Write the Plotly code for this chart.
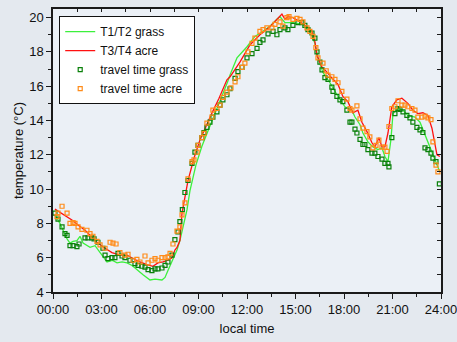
import plotly.graph_objects as go

# ---- data (hours since midnight, temperature in °C) ----
grass_line_h = [0.12,0.43,0.62,0.87,1.05,1.24,1.48,1.67,1.86,2.29,2.6,2.91,3.09,3.34,3.65,3.96,4.27,4.58,4.89,5.19,5.57,6.0,6.31,6.74,6.93,7.11,7.36,7.67,7.85,8.04,8.29,8.47,8.84,9.21,9.59,9.96,10.39,10.82,10.95,11.38,12.0,12.49,12.99,13.42,13.85,14.04,14.35,14.84,15.46,15.89,16.2,16.39,16.7,17.13,17.63,18.06,18.49,18.68,18.99,19.17,19.48,19.79,20.1,20.35,20.53,20.72,20.9,21.03,21.34,21.65,21.95,22.39,22.7,23.01,23.32,23.5,23.75,23.93]
grass_line_t = [8.5,8.0,7.6,7.1,6.85,6.95,7.0,7.25,6.85,6.6,6.7,6.3,6.0,5.75,5.85,5.7,5.75,5.7,5.55,5.3,5.0,4.7,4.75,4.7,4.85,5.25,5.75,6.45,7.0,7.8,8.8,9.9,11.4,12.5,13.4,14.2,15.2,16.3,16.66,17.65,18.3,18.9,19.2,19.5,19.9,20.05,19.7,19.7,19.6,19.2,18.5,17.65,16.8,16.2,15.4,14.8,14.6,14.2,13.75,13.27,12.75,12.46,12.3,12.4,11.9,11.6,12.86,14.4,14.7,14.6,14.3,14.2,13.9,13.15,12.4,12.0,11.4,11.0]

acre_line_h = [0.12,0.43,0.74,1.17,1.55,1.98,2.41,2.78,3.22,3.65,4.14,4.58,4.95,5.38,5.81,6.18,6.49,6.8,7.11,7.36,7.54,7.67,7.85,7.98,8.35,8.72,9.09,9.46,9.83,10.27,10.76,10.95,11.56,12.18,12.8,13.42,13.85,14.16,14.35,14.53,14.84,15.28,15.71,16.02,16.2,16.33,16.64,16.82,17.32,17.63,17.93,18.24,18.55,18.86,19.11,19.42,19.73,19.91,20.16,20.35,20.53,20.72,20.96,21.27,21.58,21.95,22.26,22.57,22.88,23.19,23.44,23.62,23.75,23.93]
acre_line_t = [8.83,8.65,8.5,8.2,7.9,7.6,7.2,6.85,6.55,6.3,6.15,6.15,5.95,5.75,5.6,5.5,5.7,5.75,5.85,6.0,6.45,6.6,7.0,8.6,10.5,11.8,12.87,13.7,14.43,15.3,16.37,16.55,17.4,18.4,19.0,19.47,19.88,20.2,19.9,20.05,20.0,19.76,19.47,19.2,18.6,17.8,17.1,16.95,16.4,16.1,15.4,15.1,14.45,14.6,13.9,13.35,12.7,12.46,13.0,12.46,12.46,13.27,14.8,15.2,15.3,15.0,14.6,14.4,14.45,14.3,13.55,12.75,12.0,11.9]

grass_tt_h = [0.12,0.31,0.56,0.74,0.87,1.05,1.24,1.48,1.61,1.98,2.16,2.41,2.54,2.78,3.09,3.22,3.4,3.65,3.83,4.02,4.27,4.45,4.76,5.07,5.26,5.5,5.69,5.88,6.12,6.31,6.49,6.74,6.93,7.11,7.36,7.54,7.73,7.85,8.0,8.16,8.35,8.6,8.78,8.97,9.21,9.34,9.52,9.71,9.89,10.14,10.33,10.51,10.76,10.95,11.26,11.44,11.69,12.0,12.31,12.62,12.8,12.99,13.3,13.61,13.85,14.04,14.35,14.53,14.84,15.15,15.4,15.58,15.77,16.02,16.2,16.33,16.51,16.64,16.82,17.01,17.25,17.32,17.56,17.75,17.93,18.18,18.37,18.49,18.68,18.8,18.99,19.17,19.29,19.48,19.73,19.91,20.1,20.35,20.53,20.72,20.78,20.96,21.15,21.34,21.46,21.65,21.89,22.08,22.26,22.51,22.7,22.88,23.01,23.19,23.38,23.5,23.69,23.9]
grass_tt_t = [8.6,8.25,7.8,7.4,7.3,6.7,6.7,6.65,6.8,7.15,7.15,7.15,7.1,6.9,6.55,6.15,5.95,6.0,6.0,6.25,6.1,6.0,5.85,5.65,5.55,5.5,5.45,5.3,5.25,5.35,5.35,5.4,5.55,5.75,6.15,7.05,7.5,8.1,8.8,9.8,10.5,11.5,12.15,12.55,13.0,13.3,13.6,13.9,14.2,14.5,14.9,15.2,15.5,15.85,16.45,16.85,17.1,17.65,17.9,18.2,18.55,18.7,19.05,19.2,19.0,19.3,19.4,19.3,19.55,19.7,19.7,19.55,19.3,19.1,18.8,18.0,17.4,16.95,16.5,16.4,15.95,15.7,15.4,15.2,15.1,14.6,13.9,13.9,13.5,13.27,12.9,12.6,12.6,12.3,12.1,12.1,11.9,11.75,11.5,11.5,11.3,13.0,14.4,14.7,14.65,14.5,14.3,14.15,13.9,13.6,13.45,13.3,12.4,12.3,12.1,11.8,11.6,10.3]

acre_tt_h = [0.25,0.31,0.56,0.87,1.05,1.24,1.36,1.55,1.79,2.1,2.29,2.47,2.72,2.91,3.22,3.53,3.71,3.9,4.14,4.45,4.64,4.95,5.19,5.38,5.69,5.88,6.12,6.31,6.49,6.74,6.93,7.11,7.24,7.42,7.67,7.85,7.98,8.16,8.35,8.6,8.72,8.91,8.97,9.21,9.34,9.52,9.83,9.89,10.14,10.33,10.51,10.76,11.01,11.26,11.44,11.69,11.87,12.06,12.31,12.49,12.8,12.99,13.23,13.54,13.73,14.04,14.22,14.47,14.6,14.84,15.09,15.28,15.46,15.71,15.89,16.08,16.26,16.39,16.7,16.9,17.01,17.25,17.44,17.63,17.87,18.18,18.37,18.49,18.8,18.99,19.17,19.42,19.6,19.79,19.98,20.16,20.35,20.53,20.66,20.78,20.96,21.15,21.34,21.58,21.77,21.95,22.2,22.39,22.57,22.82,23.01,23.19,23.38,23.5,23.69,23.81]
acre_tt_t = [8.4,8.6,9.0,8.6,8.0,8.05,8.0,7.8,7.65,7.6,7.4,7.25,6.95,6.75,6.55,6.9,6.85,6.8,6.3,6.15,6.2,5.85,5.9,5.75,6.1,5.7,5.85,5.95,5.85,6.0,6.0,6.05,6.25,6.8,7.55,7.8,8.5,9.2,10.6,11.6,11.7,12.15,12.55,13.0,13.25,13.85,14.2,14.6,14.7,14.9,15.35,15.65,15.9,16.25,16.55,17.1,17.35,18.0,18.5,18.8,19.2,19.3,19.4,19.4,19.6,19.75,19.5,20.0,20.05,19.9,19.95,19.9,19.75,19.4,19.2,18.9,18.25,17.65,17.35,16.9,16.65,16.55,16.4,16.2,15.7,15.25,14.7,14.6,14.85,14.1,13.55,13.35,13.05,12.4,12.55,12.85,12.45,12.45,12.2,13.65,14.7,14.8,15.15,14.9,14.9,14.8,14.7,14.6,14.2,14.2,14.25,14.15,14.05,12.75,11.4,11.0]

x_tickvals = [0, 3, 6, 9, 12, 15, 18, 21, 24]
x_ticktext = ["00:00", "03:00", "06:00", "09:00", "12:00", "15:00", "18:00", "21:00", "24:00"]
y_tickvals = [4, 6, 8, 10, 12, 14, 16, 18, 20]

FONT = "Liberation Sans, Arial, sans-serif"
AX = "#1a1a1a"

fig = go.Figure()
fig.add_trace(go.Scatter(x=grass_line_h, y=grass_line_t, mode="lines", name="T1/T2 grass",
                         line=dict(color="#3cf03c", width=1.3)))
fig.add_trace(go.Scatter(x=acre_line_h, y=acre_line_t, mode="lines", name="T3/T4 acre",
                         line=dict(color="#ff1010", width=1.3)))
fig.add_trace(go.Scatter(x=grass_tt_h, y=grass_tt_t, mode="markers", name="travel time grass",
                         marker=dict(symbol="square-open", size=4, color="#0a800a", line=dict(width=1.2))))
fig.add_trace(go.Scatter(x=acre_tt_h, y=acre_tt_t, mode="markers", name="travel time acre",
                         marker=dict(symbol="square-open", size=4, color="#ff8c1a", line=dict(width=1.2))))
# invisible trace to carry mirrored inward-tick axes
fig.add_trace(go.Scatter(x=[0], y=[4], xaxis="x2", yaxis="y2", mode="markers",
                         marker=dict(opacity=0), showlegend=False, hoverinfo="skip"))

fig.update_layout(
    width=457, height=342,
    margin=dict(l=53, r=16, t=9, b=50, autoexpand=False),
    paper_bgcolor="#e4e9ef",
    plot_bgcolor="#ebf0f6",
    font=dict(family=FONT, size=13, color="#111111"),
    showlegend=True,
    legend=dict(x=0.016, y=0.975, xanchor="left", yanchor="top",
                bgcolor="#ffffff", bordercolor="#111111", borderwidth=1,
                font=dict(family=FONT, size=12, color="#111111"),
                itemwidth=30, tracegroupgap=0),
    xaxis=dict(range=[0, 24], tickvals=x_tickvals, ticktext=x_ticktext, automargin=False,
               ticklabeloverflow="allow",
               showgrid=False, zeroline=False, showline=True, linecolor=AX, linewidth=1.5,
               ticks="outside", ticklen=5, tickwidth=1.2, tickcolor=AX,
               minor=dict(ticks="outside", dtick=1.5, tick0=0, ticklen=3, tickwidth=1.2, tickcolor=AX, showgrid=False),
               title=dict(text="local time", font=dict(size=13), standoff=8)),
    yaxis=dict(range=[4, 20.5], tickvals=y_tickvals, automargin=False,
               ticklabeloverflow="allow",
               showgrid=False, zeroline=False, showline=True, linecolor=AX, linewidth=1.5,
               ticks="outside", ticklen=5, tickwidth=1.2, tickcolor=AX,
               minor=dict(ticks="outside", dtick=1, tick0=0, ticklen=3, tickwidth=1.2, tickcolor=AX, showgrid=False),
               title=dict(text="temperature (°C)", font=dict(size=13), standoff=3)),
    xaxis2=dict(range=[0, 24], overlaying="x", side="top", anchor="y2", dtick=1.5, tick0=0, automargin=False,
                showticklabels=False, showgrid=False, zeroline=False, showline=True,
                linecolor=AX, linewidth=1.5, ticks="inside", ticklen=3, tickwidth=1.2, tickcolor=AX),
    yaxis2=dict(range=[4, 20.5], overlaying="y", side="right", anchor="x2", dtick=1, tick0=0, automargin=False,
                showticklabels=False, showgrid=False, zeroline=False, showline=True,
                linecolor=AX, linewidth=1.5, ticks="inside", ticklen=4, tickwidth=1.2, tickcolor=AX),
)

fig.write_html("out.html", config={"displayModeBar": False},
               post_script="document.body.style.margin='0';document.body.style.padding='0';")
